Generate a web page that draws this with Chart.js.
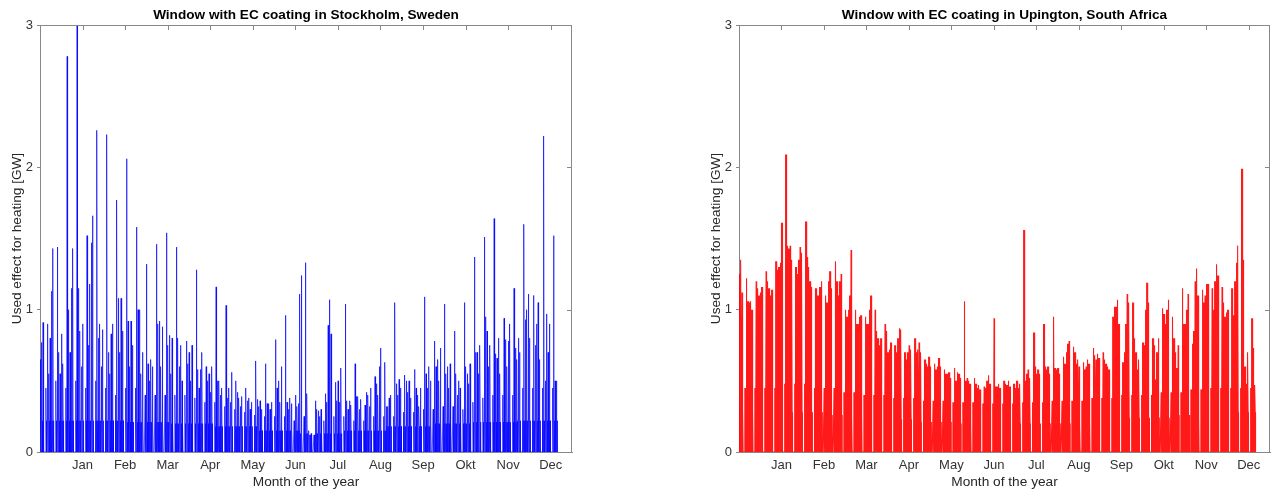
<!DOCTYPE html>
<html>
<head>
<meta charset="utf-8">
<title>Used effect for heating</title>
<script src="https://cdn.jsdelivr.net/npm/chart.js@4.4.1/dist/chart.umd.min.js"></script>
<style>
  html, body { margin: 0; padding: 0; background: #fff; overflow: hidden; }
  #wrap { position: relative; width: 1275px; height: 495px; }
  canvas { position: absolute; top: 0; }
  #left { left: 0; }
  #right { left: 637px; }
</style>
</head>
<body>
<div id="wrap">
  <canvas id="left" width="637" height="495"></canvas>
  <canvas id="right" width="638" height="495"></canvas>
</div>
<script>
const monthLabels = ["Jan", "Feb", "Mar", "Apr", "May", "Jun", "Jul", "Aug", "Sep", "Okt", "Nov", "Dec"];
const monthTickDays = [30, 60, 90, 120, 150, 180, 210, 240, 270, 300, 330, 360];
const yTicks = [0, 1, 2, 3];

// daily peak [GW], one row per week (Wed..Tue); Sat = 0 (off), Sun = low weekend level
const stockholmPeak = [
  0.65, 0.77, 0.91, 0, 0.45, 0.90, 0.55,
  0.80, 1.13, 1.43, 0, 0.50, 1.44, 0.70,
  0.55, 0.83, 0.62, 0, 0.45, 2.78, 1.00,
  0.70, 1.15, 1.43, 0, 0.50, 3.00, 1.15,
  0.85, 0.60, 0.90, 0, 0.45, 1.52, 0.75,
  1.18, 1.47, 1.66, 0, 0.50, 2.26, 0.80,
  0.90, 0.60, 0.86, 0, 0.45, 2.23, 0.70,
  0.55, 0.83, 0.90, 0, 0.40, 1.77, 1.08,
  0.70, 1.08, 0.85, 0, 0.45, 2.06, 0.92,
  0.60, 0.92, 0.75, 0, 0.45, 1.58, 1.00,
  1.00, 0.55, 0.70, 0, 0.40, 1.32, 0.62,
  0.50, 0.65, 0.60, 0, 0.40, 1.46, 0.90,
  0.92, 0.60, 0.88, 0, 0.40, 1.54, 0.75,
  0.82, 0.55, 0.80, 0, 0.40, 1.44, 0.80,
  0.60, 0.75, 0.50, 0, 0.40, 0.78, 0.62,
  0.70, 0.50, 0.75, 0, 0.38, 1.28, 0.58,
  0.45, 0.58, 0.70, 0, 0.35, 0.60, 0.50,
  0.55, 0.42, 0.60, 0, 0.35, 1.16, 0.50,
  0.50, 0.40, 0.45, 0, 0.32, 1.03, 0.38,
  0.45, 0.35, 0.56, 0, 0.30, 0.50, 0.42,
  0.38, 0.32, 0.39, 0, 0.28, 0.45, 0.36,
  0.38, 0.30, 0.35, 0, 0.26, 0.64, 0.37,
  0.32, 0.36, 0.30, 0, 0.25, 0.62, 0.34,
  0.34, 0.30, 0.35, 0, 0.25, 0.79, 0.45,
  0.50, 0.35, 0.60, 0, 0.25, 0.96, 0.35,
  0.30, 0.38, 0.34, 0, 0.22, 0.40, 0.32,
  0.34, 1.11, 1.24, 0, 0.25, 1.33, 0.41,
  0.15, 0.12, 0.13, 0, 0.12, 0.36, 0.30,
  0.29, 0.25, 0.30, 0, 0.22, 0.41, 0.35,
  0.89, 1.07, 0.83, 0, 0.25, 0.49, 0.36,
  0.50, 0.35, 0.59, 0, 0.25, 1.04, 0.36,
  0.30, 0.36, 0.33, 0, 0.22, 0.62, 0.39,
  0.39, 0.30, 0.37, 0, 0.22, 0.33, 0.42,
  0.40, 0.32, 0.45, 0, 0.25, 0.53, 0.48,
  0.40, 0.60, 0.73, 0, 0.25, 0.63, 0.32,
  0.32, 0.38, 0.40, 0, 0.25, 1.05, 0.48,
  0.40, 0.51, 0.45, 0, 0.28, 0.54, 0.50,
  0.42, 0.50, 0.38, 0, 0.28, 0.58, 0.45,
  0.40, 0.32, 0.45, 0, 0.30, 1.09, 0.55,
  0.45, 0.60, 0.50, 0, 0.30, 0.78, 0.60,
  0.65, 0.50, 0.73, 0, 0.32, 1.04, 0.55,
  0.60, 0.45, 0.62, 0, 0.32, 0.85, 0.55,
  0.40, 0.50, 0.45, 0, 0.30, 1.05, 0.60,
  0.55, 0.48, 0.62, 0, 0.35, 1.37, 0.70,
  0.70, 0.55, 0.75, 0, 0.38, 1.51, 0.95,
  0.85, 0.60, 0.75, 0, 0.40, 1.64, 0.69,
  0.66, 0.80, 0.55, 0, 0.40, 0.94, 0.79,
  0.60, 0.78, 0.90, 0, 0.40, 1.15, 0.73,
  0.65, 0.80, 0.70, 0, 0.45, 1.60, 0.93,
  1.00, 1.11, 0.80, 0, 0.45, 1.10, 0.75,
  0.90, 1.05, 0.65, 0, 0.45, 2.22, 0.50,
  0.97, 0.70, 0.90, 0, 0.45, 1.52, 0.50,
  0.50
];
// top of the solid band near zero, per month
const stockholmBase = [0.22, 0.22, 0.21, 0.2, 0.18, 0.15, 0.13, 0.15, 0.18, 0.2, 0.21, 0.22];

const upingtonPeak = [
  1.25, 1.35, 1.12, 0, 0.45, 1.22, 1.06,
  1.05, 1.06, 1.00, 0, 0.45, 1.20, 1.15,
  1.10, 1.12, 1.16, 0, 0.45, 1.27, 1.20,
  1.15, 1.10, 1.14, 0, 0.45, 1.34, 1.28,
  1.30, 1.33, 1.61, 0, 0.48, 2.09, 1.45,
  1.43, 1.45, 1.35, 0, 0.48, 1.30, 1.25,
  1.35, 1.44, 1.40, 0, 0.48, 1.62, 1.37,
  1.30, 1.20, 1.16, 0, 0.45, 1.15, 1.10,
  1.10, 1.16, 1.20, 0, 0.45, 1.10, 1.05,
  1.20, 1.27, 1.15, 0, 0.45, 1.34, 1.20,
  1.10, 1.20, 1.25, 0, 0.42, 1.00, 0.95,
  1.00, 1.10, 1.42, 0, 0.42, 1.00, 0.90,
  0.90, 0.95, 0.96, 0, 0.40, 0.95, 0.90,
  0.90, 1.00, 1.10, 0, 0.40, 1.00, 0.85,
  0.80, 0.75, 0.80, 0, 0.40, 0.90, 0.85,
  0.70, 0.72, 0.77, 0, 0.38, 0.75, 0.70,
  0.80, 0.87, 0.86, 0, 0.38, 0.70, 0.65,
  0.70, 0.75, 0.72, 0, 0.38, 0.80, 0.70,
  0.72, 0.77, 0.70, 0, 0.36, 0.65, 0.62,
  0.60, 0.67, 0.60, 0, 0.36, 0.62, 0.58,
  0.60, 0.66, 0.60, 0, 0.36, 0.58, 0.55,
  0.55, 0.56, 0.52, 0, 0.35, 0.59, 0.50,
  0.56, 0.55, 0.52, 0, 0.35, 1.06, 0.50,
  0.52, 0.50, 0.48, 0, 0.35, 0.52, 0.48,
  0.45, 0.47, 0.44, 0, 0.34, 0.46, 0.45,
  0.50, 0.54, 0.48, 0, 0.34, 0.94, 0.46,
  0.46, 0.48, 0.45, 0, 0.34, 0.50, 0.48,
  0.47, 0.50, 0.46, 0, 0.34, 0.48, 0.45,
  0.50, 0.45, 0.48, 0, 0.35, 1.56, 0.50,
  0.55, 0.58, 0.52, 0, 0.35, 0.84, 0.60,
  0.55, 0.58, 0.55, 0, 0.35, 0.90, 0.60,
  0.58, 0.60, 0.55, 0, 0.36, 0.95, 0.59,
  0.58, 0.59, 0.55, 0, 0.36, 0.67, 0.62,
  0.70, 0.76, 0.78, 0, 0.36, 0.74, 0.70,
  0.62, 0.65, 0.60, 0, 0.36, 0.63, 0.58,
  0.60, 0.65, 0.62, 0, 0.38, 0.73, 0.68,
  0.65, 0.69, 0.66, 0, 0.38, 0.70, 0.65,
  0.62, 0.60, 0.58, 0, 0.38, 0.95, 1.02,
  1.02, 1.07, 0.90, 0, 0.40, 0.63, 0.70,
  0.90, 1.11, 1.05, 0, 0.40, 1.05, 0.80,
  0.70, 0.58, 0.65, 0, 0.40, 0.77, 0.75,
  1.00, 1.19, 1.05, 0, 0.40, 0.80, 0.75,
  0.51, 0.70, 0.80, 0, 0.42, 1.01, 0.97,
  0.90, 1.00, 1.07, 0, 0.42, 0.95, 0.80,
  0.70, 0.59, 0.75, 0, 0.42, 1.15, 0.90,
  0.90, 1.00, 1.11, 0, 0.44, 0.76, 0.85,
  1.20, 1.29, 1.10, 0, 0.44, 1.14, 1.05,
  1.10, 1.18, 1.18, 0, 0.45, 1.15, 1.00,
  1.20, 1.32, 1.24, 0, 0.45, 1.16, 1.05,
  0.95, 0.98, 1.00, 0, 0.45, 1.15, 0.96,
  1.20, 1.33, 1.45, 0, 0.45, 1.99, 1.35,
  0.60, 0.48, 0.70, 0, 0.45, 0.94, 0.73,
  0.47
];
const upingtonBase = [0.3, 0.28, 0.26, 0.23, 0.21, 0.2, 0.2, 0.2, 0.22, 0.24, 0.26, 0.28];

const FONT = "'Liberation Sans', Arial, Helvetica, sans-serif";
const AXIS = "#888888";

// hourly shape of one day, as [fraction of day, level] with level "p" = peak, "b" = base, 0 = off
const shapeOneHeat = [[0, 0], [0.15, "p"], [0.3, "b"], [0.45, 0], [0.6, "b"], [0.8, 0]];
const shapeTwoHeat = [[0, 0], [0.12, "p"], [0.26, "b"], [0.4, "p"], [0.54, "b"], [0.68, 0], [0.8, "b"], [0.9, 0]];

function buildSeries(peaks, base, shape) {
  const pts = [];
  peaks.forEach((p, d) => {
    if (p === 0) {
      pts.push({ x: d + 0.5, y: 0 });
      return;
    }
    const b = Math.min(base[Math.min(11, Math.floor(d / 30.5))], p);
    shape.forEach(([f, lv]) => {
      pts.push({ x: d + f, y: lv === "p" ? p : lv === "b" ? b : 0 });
    });
  });
  return pts;
}

// matlab style box: top/right border with inward ticks
const boxPlugin = {
  id: "boxTicks",
  afterDatasetsDraw(chart) {
    const { ctx, chartArea: a, scales } = chart;
    const x = scales.x, y = scales.y;
    ctx.save();
    ctx.strokeStyle = AXIS;
    ctx.lineWidth = 1;
    ctx.beginPath();
    ctx.moveTo(a.left, a.top + 0.5);
    ctx.lineTo(a.right, a.top + 0.5);
    ctx.moveTo(a.right - 0.5, a.top);
    ctx.lineTo(a.right - 0.5, a.bottom);
    x.ticks.forEach(t => {
      const px = Math.round(x.getPixelForValue(t.value)) + 0.5;
      ctx.moveTo(px, a.top);
      ctx.lineTo(px, a.top + 5);
    });
    y.ticks.forEach(t => {
      const py = Math.round(y.getPixelForValue(t.value)) + 0.5;
      ctx.moveTo(a.right, py);
      ctx.lineTo(a.right - 5, py);
    });
    ctx.stroke();
    ctx.restore();
  }
};

function makeChart(id, title, series, color, width, pad) {
  return new Chart(document.getElementById(id), {
    type: "line",
    data: {
      datasets: [{
        data: series,
        borderColor: color,
        borderWidth: width,
        pointRadius: 0,
        tension: 0,
        fill: false
      }]
    },
    options: {
      responsive: false,
      animation: false,
      devicePixelRatio: 1,
      layout: { padding: pad },
      plugins: {
        legend: { display: false },
        tooltip: { enabled: false },
        title: {
          display: true,
          text: title,
          fullSize: false,
          color: "#000",
          font: { family: FONT, size: 13.6, weight: "bold", lineHeight: 1.2 },
          padding: { top: 6.8, bottom: 1.9 }
        }
      },
      scales: {
        x: {
          type: "linear",
          min: 0,
          max: 375,
          afterBuildTicks: s => { s.ticks = monthTickDays.map(v => ({ value: v })); },
          afterFit: s => { s.height = 43; },
          grid: { display: false, drawTicks: false },
          border: { display: true, color: AXIS, width: 1 },
          ticks: {
            padding: 6,
            autoSkip: false,
            maxRotation: 0,
            color: "#333",
            font: { family: FONT, size: 13 },
            callback: v => monthLabels[monthTickDays.indexOf(v)]
          },
          title: {
            display: true,
            text: "Month of the year",
            color: "#262626",
            font: { family: FONT, size: 13.7, lineHeight: 1 },
            padding: { top: 0, bottom: 6 }
          }
        },
        y: {
          type: "linear",
          min: 0,
          max: 3,
          afterBuildTicks: s => { s.ticks = yTicks.map(v => ({ value: v })); },
          afterFit: s => { s.width = 40; },
          grid: { drawOnChartArea: false, drawTicks: true, tickLength: 3, color: AXIS },
          border: { display: true, color: AXIS, width: 1 },
          ticks: { padding: 4, color: "#333", font: { family: FONT, size: 13 } },
          title: {
            display: true,
            text: "Used effect for heating [GW]",
            color: "#262626",
            font: { family: FONT, size: 13.6, lineHeight: 1 },
            padding: { top: 10, bottom: 0 }
          }
        }
      }
    },
    plugins: [boxPlugin]
  });
}

makeChart("left", "Window with EC coating in Stockholm, Sweden",
  buildSeries(stockholmPeak, stockholmBase, shapeOneHeat), "rgba(0,0,255,0.85)", 0.8,
  { left: 0, right: 65, top: 0, bottom: 0 });
makeChart("right", "Window with EC coating in Upington, South Africa",
  buildSeries(upingtonPeak, upingtonBase, shapeTwoHeat), "rgba(255,0,0,0.9)", 1.1,
  { left: 62, right: 5, top: 0, bottom: 0 });
</script>
</body>
</html>
